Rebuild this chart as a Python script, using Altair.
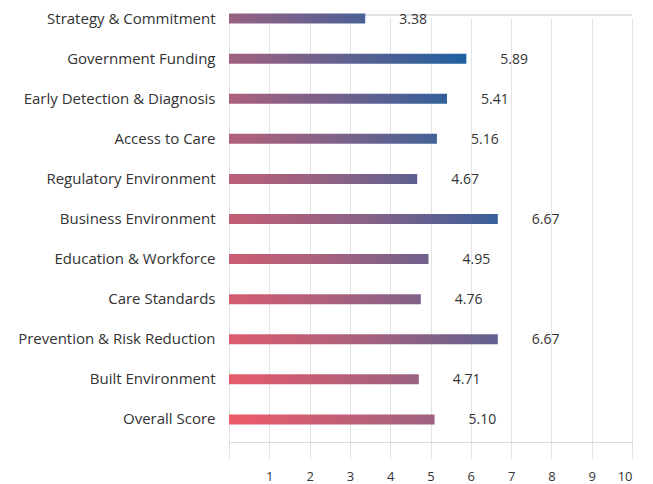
import altair as alt
import pandas as pd

categories = [
    "Strategy & Commitment",
    "Government Funding",
    "Early Detection & Diagnosis",
    "Access to Care",
    "Regulatory Environment",
    "Business Environment",
    "Education & Workforce",
    "Care Standards",
    "Prevention & Risk Reduction",
    "Built Environment",
    "Overall Score",
]
scores = [3.38, 5.89, 5.41, 5.16, 4.67, 6.67, 4.95, 4.76, 6.67, 4.71, 5.10]
score_labels = ["3.38", "5.89", "5.41", "5.16", "4.67", "6.67", "4.95", "4.76", "6.67", "4.71", "5.10"]

df = pd.DataFrame({"cat": categories, "score": scores, "label": score_labels})

# global diagonal gradient: red (bottom-left) -> mauve -> blue (top-right)
stops_t = [0.0, 5.26, 10.4]
stops_c = [(238, 90, 104), (154, 98, 130), (31, 96, 160)]


def col_at(t):
    if t <= stops_t[0]:
        c = stops_c[0]
    elif t >= stops_t[-1]:
        c = stops_c[-1]
    else:
        for k in range(len(stops_t) - 1):
            if stops_t[k] <= t <= stops_t[k + 1]:
                f = (t - stops_t[k]) / (stops_t[k + 1] - stops_t[k])
                a, b = stops_c[k], stops_c[k + 1]
                c = tuple(round(a[j] + (b[j] - a[j]) * f) for j in range(3))
                break
    return "#%02x%02x%02x" % c


n = len(categories)
X = alt.X("score:Q", scale=alt.Scale(domain=[0, 10], nice=False),
          axis=alt.Axis(values=list(range(0, 11)), title=None, grid=True,
                        gridColor="#e3e3e3", domainColor="#dcdcdc", tickColor="#dcdcdc",
                        tickSize=4, labelPadding=24, labelFontSize=13, labelColor="#333333",
                        labelFont="Open Sans",
                        labelExpr="datum.value == 0 ? '' : datum.label"))
Y = alt.Y("cat:N", sort=categories,
          scale=alt.Scale(range=[-16.5, 424.5], paddingInner=0, paddingOuter=0),
          axis=alt.Axis(title=None, ticks=False, domain=False, grid=False,
                        labelPadding=14, labelFontSize=15, labelColor="#333333",
                        labelFont="Open Sans", labelLimit=400))

base = alt.Chart(df)
layers = []
for i, c in enumerate(categories):
    r = n - 1 - i
    t0 = 0.526 * r
    t1 = scores[i] + 0.526 * r
    grad = alt.Gradient(
        gradient="linear",
        stops=[alt.GradientStop(color=col_at(t0), offset=0),
               alt.GradientStop(color=col_at((t0 + t1) / 2), offset=0.5),
               alt.GradientStop(color=col_at(t1), offset=1)],
        x1=0, x2=1, y1=0, y2=0,
    )
    layers.append(
        base.transform_filter(alt.datum.cat == c)
        .mark_bar(color=grad, size=10)
        .encode(x=X, y=Y)
    )

text = base.mark_text(align="left", baseline="middle", dx=34, dy=1, fontSize=14,
                      font="Open Sans", color="#333333").encode(
    x=alt.X("score:Q"), y=alt.Y("cat:N", sort=categories), text="label:N")

top_rule = alt.Chart(df).mark_rule(color="#e3e3e3").encode(
    x=alt.value(0), x2=alt.value(403), y=alt.value(0))

chart = alt.layer(top_rule, *layers, text).properties(
    width=403, height=427, padding={"left": 9, "top": 3, "right": 5, "bottom": 5}
).configure_view(stroke=None)

chart.save("out.html", embed_options={"renderer": "svg", "actions": False})
